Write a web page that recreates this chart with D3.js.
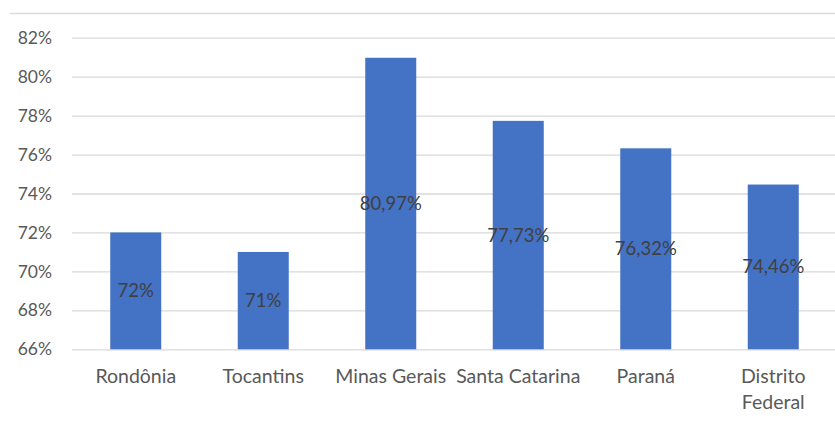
<!DOCTYPE html>
<html>
<head>
<meta charset="utf-8">
<script src="https://cdn.jsdelivr.net/npm/d3@7"></script>
<style>
  html, body { margin: 0; padding: 0; background: #fff; }
  svg { display: block; }
  text { font-family: Lato, "Open Sans", sans-serif; }
</style>
</head>
<body>
<svg id="chart" width="835" height="423"></svg>
<script>
// Share of population per state (%)
const states = ["Rondônia", "Tocantins", "Minas Gerais", "Santa Catarina", "Paraná", "Distrito Federal"];
const values = [72, 71, 80.97, 77.73, 76.32, 74.46];
const yTicks = [66, 68, 70, 72, 74, 76, 78, 80, 82];

const W = 835, H = 423;
const plot = { left: 72, right: 837, top: 37.7, bottom: 349.3 };

const svg = d3.select("#chart");

const x = d3.scaleBand()
  .domain(states)
  .range([plot.left, plot.right])
  .paddingInner(0.6)
  .paddingOuter(0.3);

const y = d3.scaleLinear()
  .domain([66, 82])
  .range([plot.bottom, plot.top]);

const fmt = v => Number.isInteger(v) ? v + "%" : v.toFixed(2).replace(".", ",") + "%";

// outer frame line at the top
svg.append("line")
  .attr("x1", 10).attr("x2", W)
  .attr("y1", 13.5).attr("y2", 13.5)
  .attr("stroke", "#d9d9d9").attr("stroke-width", 1.3);

// horizontal gridlines + y labels
const yAxis = d3.axisLeft(y)
  .tickValues(yTicks)
  .tickFormat(d => d + "%")
  .tickSize(-(W - plot.left))
  .tickPadding(20);

const gy = svg.append("g")
  .attr("transform", `translate(${plot.left},0)`)
  .call(yAxis);
gy.select(".domain").remove();
gy.selectAll(".tick line").attr("stroke", "#d9d9d9").attr("stroke-width", 1.3);
gy.selectAll(".tick text")
  .attr("fill", "#595959")
  .style("font-size", "17.5px");

// bars
svg.append("g")
  .selectAll("rect")
  .data(values)
  .join("rect")
  .attr("x", (d, i) => x(states[i]))
  .attr("width", x.bandwidth())
  .attr("y", d => y(d))
  .attr("height", d => y(66) - y(d))
  .attr("fill", "#4472C4");

// value labels centred in each bar
svg.append("g")
  .selectAll("text")
  .data(values)
  .join("text")
  .attr("x", (d, i) => x(states[i]) + x.bandwidth() / 2)
  .attr("y", d => (y(d) + y(66)) / 2)
  .attr("dy", "0.35em")
  .attr("text-anchor", "middle")
  .attr("fill", "#404040")
  .style("font-size", "18.5px")
  .text(fmt);

// category labels (x axis)
const xAxis = d3.axisBottom(x).tickSize(0).tickPadding(20);
const gx = svg.append("g")
  .attr("transform", `translate(0,${plot.bottom})`)
  .call(xAxis);
gx.select(".domain").remove();
gx.selectAll(".tick text")
  .attr("fill", "#595959")
  .style("font-size", "19.5px")
  .each(function (d) {
    if (d === "Distrito Federal") {
      const t = d3.select(this);
      t.text(null);
      t.append("tspan").attr("x", 0).attr("dy", "0.71em").text("Distrito");
      t.append("tspan").attr("x", 0).attr("dy", "1.33em").text("Federal");
      t.attr("dy", null);
    }
  });
</script>
</body>
</html>
